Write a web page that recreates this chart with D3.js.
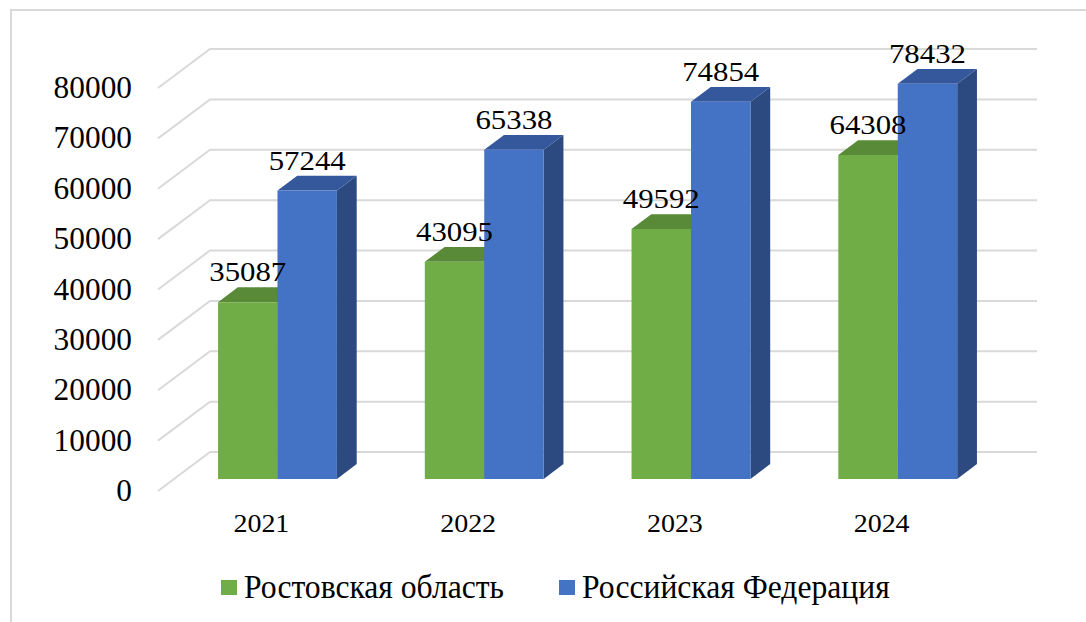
<!DOCTYPE html>
<html><head><meta charset="utf-8"><script src="https://cdn.jsdelivr.net/npm/d3@7"></script></head>
<body style="margin:0">
<script>
// data
const years = ['2021', '2022', '2023', '2024'];
const series = ['Ростовская область', 'Российская Федерация'];
const rostov = [35087, 43095, 49592, 64308];
const russia = [57244, 65338, 74854, 78432];
const yTicks = [0, 10000, 20000, 30000, 40000, 50000, 60000, 70000, 80000];

const colors = {
  'Ростовская область': {front: '#70ad47', top: '#588a38', side: '#4f7d32'},
  'Российская Федерация': {front: '#4472c4', top: '#35589c', side: '#2c4a80'}
};

var width = 1086, height = 622;

var svg = d3.select('body').append('svg')
  .attr('width', width)
  .attr('height', height);

// 3d-ish projection: z goes from 0 (front floor edge) to 1 (back wall)
var depth = {dx: 52, dy: -39};
var floorY = 491;

var y = d3.scaleLinear().domain([0, 80000]).range([floorY, floorY - 403]);
var x = d3.scaleBand().domain(years).range([158, 985]).paddingInner(0.425).paddingOuter(0.2125);
var xs = d3.scaleBand().domain(series).range([0, x.bandwidth()]);

function P(px, v, z) {
  return [px + z * depth.dx, y(v) + z * depth.dy];
}

// text at 28px then scaled, positioned by transform
function label(sel, fx, fy, kx, ky) {
  sel.attr('transform', (d, i) => 'translate(' + fx(d, i) + ',' + fy(d, i) + ') scale(' + kx + ',' + ky + ')')
    .style('font-family', d => '"Liberation Serif"')
    .style('font-size', d => '28px');
}

// frame
svg.append('path')
  .attr('d', 'M11,622 L11,10 L1086,10')
  .attr('fill', 'none')
  .attr('stroke', '#d9d9d9')
  .attr('stroke-width', 2);

// gridlines: diagonal on the floor side + back wall
svg.append('g').selectAll('path')
  .data(yTicks)
  .enter().append('path')
  .attr('d', d => {
    var a = P(x.range()[0], d, 0), b = P(x.range()[0], d, 1), c = P(x.range()[1], d, 1);
    return 'M' + a + 'L' + b + 'L' + c;
  })
  .attr('fill', 'none')
  .attr('stroke', '#d9d9d9')
  .attr('stroke-width', 2);

// y tick labels
svg.append('g').selectAll('text')
  .data(yTicks)
  .enter().append('text')
  .attr('text-anchor', 'end')
  .call(label, () => 132, d => y(d) + 10, 1.12, 1.1)
  .text(d => d);

// bars
var z0 = 0.31, z1 = 0.69;
var barData = [];
years.forEach((yr, i) => {
  barData.push({year: yr, s: series[0], v: rostov[i]});
  barData.push({year: yr, s: series[1], v: russia[i]});
});

var bars = svg.append('g')
  .selectAll('g')
  .data(barData)
  .enter().append('g');

function poly(pts) { return 'M' + pts.join('L') + 'Z'; }

bars.append('path') // side
  .attr('d', d => {
    var xr = x(d.year) + xs(d.s) + xs.bandwidth();
    return poly([P(xr, 0, z0), P(xr, 0, z1), P(xr, d.v, z1), P(xr, d.v, z0)]);
  })
  .attr('fill', d => colors[d.s].side);

bars.append('path') // top
  .attr('d', d => {
    var xl = x(d.year) + xs(d.s), xr = xl + xs.bandwidth();
    return poly([P(xl, d.v, z0), P(xl, d.v, z1), P(xr, d.v, z1), P(xr, d.v, z0)]);
  })
  .attr('fill', d => colors[d.s].top);

bars.append('path') // front
  .attr('d', d => {
    var xl = x(d.year) + xs(d.s), xr = xl + xs.bandwidth();
    return poly([P(xl, 0, z0), P(xl, d.v, z0), P(xr, d.v, z0), P(xr, 0, z0)]);
  })
  .attr('fill', d => colors[d.s].front);

// value labels
svg.append('g').selectAll('text')
  .data(barData)
  .enter().append('text')
  .attr('text-anchor', 'middle')
  .call(label,
    d => P(x(d.year) + xs(d.s) + xs.bandwidth() / 2, d.v, z0)[0],
    d => P(0, d.v, z0)[1] - 21, 1.1, 1.0)
  .text(d => d.v);

// year labels
svg.append('g').selectAll('text')
  .data(years)
  .enter().append('text')
  .attr('text-anchor', 'middle')
  .call(label, d => x(d) + x.bandwidth() / 2, () => 532, 1.0, 0.92)
  .text(d => d);

// legend
var legX = [221, 559];
var leg = svg.append('g').selectAll('g')
  .data(series)
  .enter().append('g');
leg.append('rect')
  .attr('x', (d, i) => legX[i]).attr('y', 580)
  .attr('width', 16).attr('height', 15)
  .attr('fill', d => colors[d].front);
leg.append('text')
  .call(label, (d, i) => legX[i] + 23, () => 598, 1.13, 1.17)
  .text(d => d);
</script>
</body></html>
